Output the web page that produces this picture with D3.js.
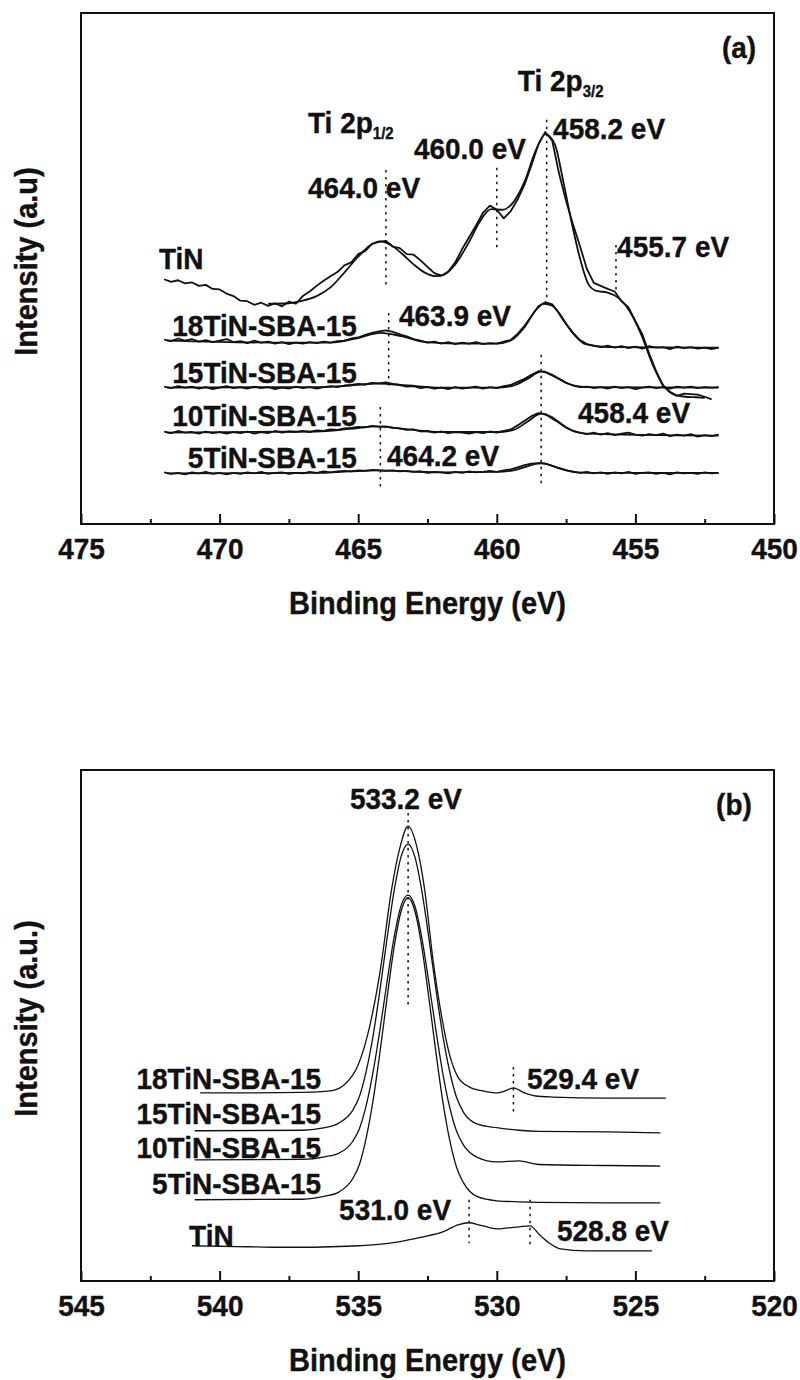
<!DOCTYPE html>
<html>
<head>
<meta charset="utf-8">
<script src="https://cdn.jsdelivr.net/npm/d3@7"></script>
<style>
  body { margin: 0; background: #fff; }
  svg { display: block; }
  text { font-family: "Liberation Sans", Arial, Helvetica, sans-serif; font-weight: bold; fill: #111;
         stroke: #111; stroke-width: 0.35; }
  /* slightly tall lettering for the upright labels */
  text.tall { transform-box: fill-box; transform-origin: center; transform: scaleY(1.08); }
</style>
</head>
<body>
<svg id="fig" width="800" height="1380"></svg>
<script>
// ---------- (a) Ti 2p region ----------
// binding-energy grid of the Ti 2p scans (eV)
const energyTi = [472,471.75,471.5,471.25,471,470.75,470.5,470.25,470,469.75,469.5,469.25,469,468.75,468.5,468.25,
  468,467.75,467.5,467.25,467,466.75,466.5,466.25,466,465.75,465.5,465.25,465,464.75,464.5,464.25,464,463.75,463.5,
  463.25,463,462.75,462.5,462.25,462,461.75,461.5,461.25,461,460.75,460.5,460.25,460,459.75,459.5,459.25,459,458.75,
  458.5,458.25,458,457.75,457.5,457.25,457,456.75,456.5,456.25,456,455.75,455.5,455.25,455,454.75,454.5,454.25,454,
  453.75,453.5,453.25,453,452.75,452.5,452.25,452];

// measured counts (a.u., offset for stacking)
const tinRawTi = [47.9,47.4,47.7,47.1,47.3,46.6,46.8,46.0,45.9,45.1,
  44.6,43.7,43.6,42.9,43.3,42.7,43.2,42.6,43.5,43.1,
  44.6,45.5,46.6,47.6,48.5,49.3,50.6,51.2,52.8,53.4,
  54.8,55.2,55.4,54.3,54.0,52.8,52.7,51.6,50.3,49.1,
  48.6,49.4,51.2,53.8,56.1,58.4,60.9,62.3,61.5,59.8,
  61.2,63.5,66.4,70.2,74.3,76.7,75.0,68.5,63.2,58.6,
  54.4,49.9,47.2,46.6,46.0,45.5,43.6,42.4,39.7,37.1,
  33.3,29.9,27.0,25.9,25.1,25.5,25.4,25.3,24.9,24.4];
const s18RawTi = [36.1,35.8,36.3,35.9,36.2,35.7,36.0,35.6,35.9,36.2,
  35.6,35.8,35.4,35.9,35.5,35.7,35.3,35.6,35.2,35.5,
  35.3,35.6,35.4,35.7,35.5,35.8,35.9,36.3,36.5,37.0,
  37.4,37.7,37.9,37.6,37.1,36.7,36.2,35.9,35.5,35.7,
  35.3,35.6,35.2,35.5,35.3,35.6,35.2,35.4,35.3,35.7,
  36.0,37.2,38.8,40.7,42.6,43.4,43.0,41.3,39.2,37.4,
  36.0,35.2,34.9,34.6,34.9,34.5,34.8,34.4,34.7,34.3,
  34.8,34.5,34.6,34.2,34.7,34.4,34.6,34.3,34.5,34.2,34.5];
const s15RawTi = [26.9,26.6,27.0,26.7,26.9,26.5,26.8,26.4,26.7,27.0,
  26.6,26.8,26.5,26.9,26.6,26.8,26.4,26.7,26.5,26.9,
  26.6,26.8,26.5,26.8,27.0,26.8,27.1,27.2,27.4,27.3,
  27.6,27.5,27.7,27.4,27.2,26.9,27.0,26.6,26.8,26.5,
  26.7,26.4,26.8,26.5,26.7,26.9,26.5,26.8,26.6,27.0,
  27.2,27.8,28.4,29.2,29.9,29.8,29.2,28.4,27.6,27.1,
  26.8,26.9,26.6,26.8,26.5,26.9,26.6,26.8,26.4,26.7,
  26.9,26.6,26.8,26.5,26.9,26.7,26.9,26.6,26.8,26.7,26.8];
const s10RawTi = [18.1,17.8,18.2,17.9,18.0,17.7,18.1,17.8,18.0,17.7,
  18.0,17.8,18.1,17.7,18.0,17.8,18.2,17.9,18.1,18.0,
  18.2,18.0,18.3,18.2,18.5,18.4,18.7,18.8,19.0,18.9,
  19.2,19.0,19.1,18.8,18.7,18.4,18.5,18.1,18.2,17.9,
  18.1,17.8,18.0,17.9,17.7,18.0,17.8,18.1,17.9,18.2,
  18.5,19.3,20.2,21.1,21.7,21.5,20.9,19.9,18.9,18.2,
  17.9,17.6,17.9,17.5,17.8,17.4,17.7,17.9,17.5,17.3,
  17.6,17.4,17.7,17.2,17.5,17.3,17.6,17.1,17.4,17.2,17.5];
const s5RawTi = [10.1,9.8,10.0,9.7,10.1,9.9,10.2,9.8,10.0,9.7,
  10.0,9.8,10.1,9.9,10.2,9.8,10.0,10.1,9.8,10.0,
  9.9,10.2,10.0,10.3,10.1,10.3,10.4,10.3,10.5,10.4,
  10.6,10.5,10.4,10.5,10.3,10.4,10.2,10.3,10.0,10.2,
  10.1,9.9,10.2,10.0,10.3,10.1,10.2,10.4,10.2,10.5,
  10.7,11.1,11.5,11.8,11.9,11.8,11.4,10.9,10.5,10.2,
  10.0,10.2,9.9,10.1,9.8,10.1,9.9,10.2,9.8,10.0,
  10.1,9.8,10.0,9.7,10.1,9.9,10.0,9.8,10.1,9.9,10.0];

// fitted envelopes
const tinFitEnergyTi = [468.25,467.5,467.0,466.5,466.0,465.5,465.0,464.6,464.2,463.8,463.4,463.0,462.6,462.2,461.9,
  461.5,461.0,460.6,460.2,459.8,459.4,459.0,458.6,458.25,457.9,457.6,457.3,457.0,456.7,456.4,456.0,455.6,455.2,
  454.8,454.4,454.0,453.6,453.2,452.8,452.5];
const tinFitTi = [43.1,43.2,43.7,44.6,46.3,49.2,52.3,54.4,55.3,54.5,52.8,50.8,49.2,48.5,48.8,
  50.8,55.2,59.3,61.6,61.5,63.0,67.0,73.0,76.3,74.2,67.0,59.0,52.0,47.0,45.6,45.3,44.2,41.6,
  37.2,31.5,27.2,25.3,24.9,24.8,24.7];
const s18FitEnergyTi = [471.9,468,466,465,464.2,463.4,462.6,461,460,459.5,459,458.6,458.3,458.0,457.6,457.2,456.8,456,452];
const s18FitTi = [35.9,35.5,35.5,36.4,37.4,36.7,35.6,35.3,35.3,35.9,38.5,41.8,43.1,42.7,39.9,37.0,35.2,34.6,34.5];
const lowFitEnergyTi = [471.9,466.5,465.3,464.3,463.2,462,460,459.4,458.9,458.4,457.9,457.4,456.8,452];
const s15FitTi = [26.7,26.8,27.1,27.5,27.1,26.7,26.7,27.1,28.4,29.8,28.8,27.4,26.8,26.7];
const s10FitTi = [17.9,18.1,18.6,19.1,18.5,18.0,18.0,18.4,20.0,21.6,20.3,18.6,17.7,17.3];
const s5FitTi = [9.9,10.0,10.3,10.5,10.3,10.1,10.2,10.5,11.3,11.9,11.2,10.4,10.0,10.0];

// peak markers: energy, top and bottom intensity of the dotted guide
const guidesTi = [
  [464.0, 69.3, 46.2], [460.0, 69.7, 53.6], [458.2, 79.1, 43.8], [455.7, 54.6, 45.2],
  [463.9, 41.3, 26.2], [458.4, 33.1, 7.2], [464.2, 22.9, 7.2]
];
// peak labels: text, anchor energy, anchor intensity
const peakNotesTi = [
  ["464.0 eV", 466.81, 64.0], ["460.0 eV", 462.99, 71.6], ["458.2 eV", 457.97, 75.5],
  ["455.7 eV", 455.66, 52.4], ["463.9 eV", 463.53, 38.9], ["458.4 eV", 457.07, 20.0],
  ["464.2 eV", 463.96, 11.5]
];
const sampleNamesTi = ["18TiN-SBA-15", "15TiN-SBA-15", "10TiN-SBA-15", "5TiN-SBA-15"];
const sampleLevelsTi = [37.0, 27.8, 19.4, 11.2];

// ---------- (b) O 1s region ----------
const s18EnergyO = [540.7,539,537,536.0,535.5,535.0,534.6,534.2,533.8,533.5,533.2,532.9,532.6,532.3,532.0,531.7,531.4,
  531.0,530.5,530.0,529.7,529.4,529.0,528.6,528.0,526.0,523.9];
const s18O = [36.8,36.8,36.9,37.2,38.4,42.3,49.5,60.9,76.5,84.7,89.0,85.3,76.5,62.8,52.1,44.2,39.9,
  38.0,37.2,36.8,37.2,37.8,36.8,36.2,36.0,35.8,35.8];
const lowEnergyO = [540.9,537,536.2,535.7,535.2,534.95,534.7,534.45,534.2,533.95,533.7,533.45,533.2,532.95,532.7,
  532.45,532.2,531.95,531.7,531.45,531.2,530.7,530.0,529.2,528.5,526,524.1];
const s15O = [29.4,29.5,30.0,30.9,33.4,36.2,41.3,48.4,57.5,67.4,76.5,83.1,85.5,82.9,76.2,
  67.1,57.2,48.1,41.0,35.9,33.0,30.7,30.0,29.5,29.3,29.2,29.0];
const s10O = [23.7,23.8,24.3,25.0,27.3,29.9,34.6,41.3,49.7,58.9,67.4,73.5,75.5,73.3,67.0,
  58.4,49.2,40.7,34.0,29.3,26.6,24.2,23.3,23.5,22.8,22.6,22.5];
const s5O = [15.9,16.0,16.6,17.4,20.0,22.9,28.3,35.8,45.4,55.8,65.5,72.4,75.0,72.3,65.2,
  55.4,44.9,35.2,27.6,22.2,19.2,16.5,15.7,15.5,15.4,15.3,15.3];
const tinEnergyO = [541.0,540,539,538,537,536,535,534,533.6,532.7,531.95,531.4,531.0,530.65,530.3,530.0,529.6,
  529.2,528.8,528.45,528.1,527.7,526.8,525.5,524.4];
const tinO = [6.9,6.8,6.7,6.6,6.6,6.7,6.9,7.3,7.6,8.6,9.6,11.0,11.4,11.0,10.5,10.2,10.4,
  10.6,10.8,9.0,7.4,6.3,5.9,5.9,5.9];

const guidesO = [[533.2, 91.6, 53.6], [529.4, 41.9, 32.5], [531.0, 15.9, 7.4], [528.8, 15.9, 6.5]];
const peakNotesO = [
  ["533.2 eV", 535.30, 92.6], ["529.4 eV", 528.91, 37.8], ["531.0 eV", 535.69, 12.1], ["528.8 eV", 527.83, 8.0]
];
const sampleNamesO = ["18TiN-SBA-15", "15TiN-SBA-15", "10TiN-SBA-15", "5TiN-SBA-15"];
const sampleLevelsO = [37.8, 30.9, 24.3, 17.2];

const ticksTi = [475, 470, 465, 460, 455, 450];
const minorTicksTi = [472.5, 467.5, 462.5, 457.5, 452.5];
const ticksO = [545, 540, 535, 530, 525, 520];
const minorTicksO = [542.5, 537.5, 532.5, 527.5, 522.5];

// ---------- drawing ----------
const svg = d3.select("#fig");
const LEFT = 81, RIGHT = 774;
const FONT = 28;

function drawPanel(cfg) {
  const x = d3.scaleLinear().domain(cfg.domain).range([LEFT, RIGHT]);
  const y = d3.scaleLinear().domain([0, 100]).range([cfg.bottom, cfg.top]);
  const g = svg.append("g");

  // spectra
  cfg.series.forEach(s => {
    const line = d3.line().x(d => x(d[0])).y(d => y(d[1])).curve(s.curve);
    g.append("path")
      .datum(d3.zip(s.energy.slice(0, s.values.length), s.values))
      .attr("d", line)
      .attr("fill", "none")
      .attr("stroke", "#111")
      .attr("stroke-width", cfg.lineWidth)
      .attr("stroke-linejoin", "round");
  });

  // dotted peak guides
  g.selectAll(".guide").data(cfg.guides).join("line")
    .attr("x1", d => x(d[0])).attr("x2", d => x(d[0]))
    .attr("y1", d => y(d[1])).attr("y2", d => y(d[2]))
    .attr("stroke", "#111").attr("stroke-width", 1.5)
    .attr("stroke-dasharray", "2.5 4.5");

  // peak energy labels
  g.selectAll(".note").data(cfg.notes).join("text")
    .attr("class", "tall")
    .attr("x", d => x(d[1])).attr("y", d => y(d[2]))
    .attr("font-size", FONT)
    .text(d => d[0]);

  // sample names, right-aligned
  g.selectAll(".name").data(cfg.names).join("text")
    .attr("class", "tall")
    .attr("x", x(cfg.nameEnergy))
    .attr("y", (d, i) => y(cfg.nameLevels[i]))
    .attr("text-anchor", "end")
    .attr("font-size", FONT)
    .text(d => d);

  // frame
  g.append("rect")
    .attr("x", LEFT).attr("y", cfg.top)
    .attr("width", RIGHT - LEFT).attr("height", cfg.bottom - cfg.top)
    .attr("fill", "none").attr("stroke", "#111").attr("stroke-width", 2);

  // bottom axis: major ticks with labels, minor ticks without
  const ax = g.append("g").attr("transform", `translate(0,${cfg.bottom})`)
    .call(d3.axisBottom(x).tickValues(cfg.ticks).tickSizeInner(-10).tickSizeOuter(0)
      .tickPadding(14).tickFormat(d3.format("d")));
  ax.select(".domain").remove();
  ax.selectAll("line").attr("stroke", "#111").attr("stroke-width", 2);
  ax.attr("font-family", null).attr("font-size", null);
  ax.selectAll("text").attr("class", "tall").attr("font-size", FONT).attr("fill", "#111");
  const mx = g.append("g").attr("transform", `translate(0,${cfg.bottom})`)
    .call(d3.axisBottom(x).tickValues(cfg.minor).tickSizeInner(-5).tickSizeOuter(0).tickFormat(""));
  mx.select(".domain").remove();
  mx.selectAll("line").attr("stroke", "#111").attr("stroke-width", 2);

  // axis titles
  g.append("text")
    .attr("class", "tall")
    .attr("x", (LEFT + RIGHT) / 2).attr("y", cfg.bottom + 89)
    .attr("text-anchor", "middle").attr("font-size", FONT + 1)
    .text("Binding Energy (eV)");
  g.append("text")
    .attr("transform", `translate(37,${(cfg.top + cfg.bottom) / 2 - 7}) rotate(-90) scale(1,1.08)`)
    .attr("text-anchor", "middle").attr("font-size", FONT + 1)
    .text(cfg.yTitle);

  // panel tag
  g.append("text")
    .attr("class", "tall")
    .attr("x", x(cfg.tag[1])).attr("y", y(cfg.tag[2]))
    .attr("font-size", FONT).text(cfg.tag[0]);

  return { g, x, y };
}

// panel (a)
const pa = drawPanel({
  domain: [475, 450], top: 13, bottom: 524, lineWidth: 1.8,
  ticks: ticksTi, minor: minorTicksTi,
  series: [
    { energy: energyTi, values: tinRawTi, curve: d3.curveLinear },
    { energy: tinFitEnergyTi, values: tinFitTi, curve: d3.curveMonotoneX },
    { energy: energyTi, values: s18RawTi, curve: d3.curveLinear },
    { energy: s18FitEnergyTi, values: s18FitTi, curve: d3.curveMonotoneX },
    { energy: energyTi, values: s15RawTi, curve: d3.curveLinear },
    { energy: lowFitEnergyTi, values: s15FitTi, curve: d3.curveMonotoneX },
    { energy: energyTi, values: s10RawTi, curve: d3.curveLinear },
    { energy: lowFitEnergyTi, values: s10FitTi, curve: d3.curveMonotoneX },
    { energy: energyTi, values: s5RawTi, curve: d3.curveLinear },
    { energy: lowFitEnergyTi, values: s5FitTi, curve: d3.curveMonotoneX }
  ],
  guides: guidesTi, notes: peakNotesTi.concat([["TiN", 472.19, 50.1]]),
  names: sampleNamesTi, nameLevels: sampleLevelsTi, nameEnergy: 465.05,
  yTitle: "Intensity (a.u)", tag: ["(a)", 451.88, 91.4]
});

// orbital labels with subscripts
[["Ti 2p", "1/2", 466.81, 76.7], ["Ti 2p", "3/2", 459.24, 84.9]].forEach(d => {
  const t = pa.g.append("text").attr("class", "tall")
    .attr("x", pa.x(d[2])).attr("y", pa.y(d[3])).attr("font-size", FONT);
  t.append("tspan").text(d[0]);
  t.append("tspan").attr("font-size", 15).attr("dy", 6).text(d[1]);
});

// panel (b)
drawPanel({
  domain: [545, 520], top: 770, bottom: 1281, lineWidth: 1.3,
  ticks: ticksO, minor: minorTicksO,
  series: [
    { energy: s18EnergyO, values: s18O, curve: d3.curveMonotoneX },
    { energy: lowEnergyO, values: s15O, curve: d3.curveMonotoneX },
    { energy: lowEnergyO, values: s10O, curve: d3.curveMonotoneX },
    { energy: lowEnergyO, values: s5O, curve: d3.curveMonotoneX },
    { energy: tinEnergyO, values: tinO, curve: d3.curveMonotoneX }
  ],
  guides: guidesO, notes: peakNotesO.concat([["TiN", 541.10, 7.0]]),
  names: sampleNamesO, nameLevels: sampleLevelsO, nameEnergy: 536.34,
  yTitle: "Intensity (a.u.)", tag: ["(b)", 522.09, 91.4]
});
</script>
</body>
</html>
